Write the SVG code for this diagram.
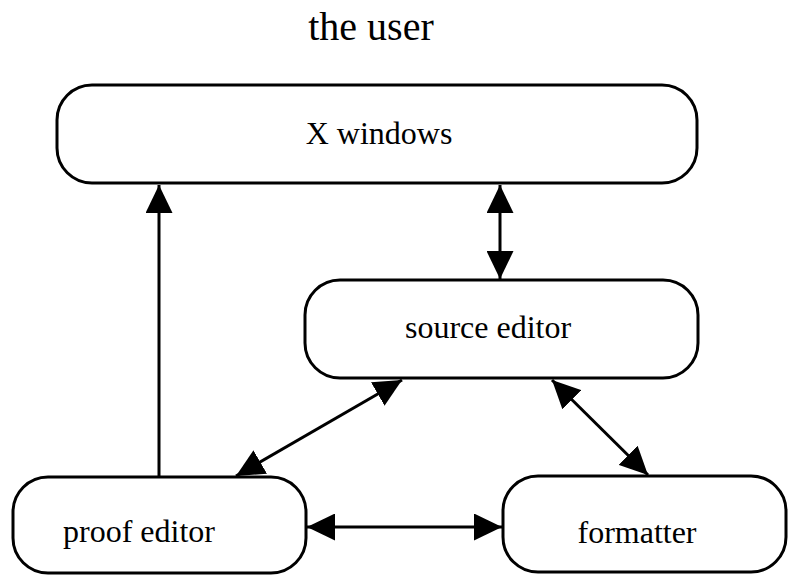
<svg xmlns="http://www.w3.org/2000/svg" width="788" height="575" viewBox="0 0 788 575">
<style>
.box{fill:#fff;stroke:#000;stroke-width:3}
.lbl{font-family:"Liberation Serif","Times New Roman",serif;font-size:32px;fill:#000;text-anchor:middle}
.title{font-family:"Liberation Serif","Times New Roman",serif;font-size:40px;fill:#000;text-anchor:middle}
.conn{stroke:#000;stroke-width:3;fill:none}
</style>
<defs>
<marker id="ah" markerUnits="userSpaceOnUse" markerWidth="28" markerHeight="27" refX="28" refY="13.5" orient="auto-start-reverse">
<path d="M0,0 L28,13.5 L0,27 z" fill="#000"/>
</marker>
</defs>
<text class="title" x="371" y="40">the user</text>
<g id="xwindows">
<rect class="box" x="57" y="85" width="640" height="98" rx="35" ry="35"/>
<text class="lbl" x="379" y="144">X windows</text>
</g>
<g id="source-editor">
<rect class="box" x="305" y="280" width="393" height="98" rx="35" ry="35"/>
<text class="lbl" x="488" y="338">source editor</text>
</g>
<g id="proof-editor">
<rect class="box" x="13" y="477" width="293" height="96" rx="35" ry="35"/>
<text class="lbl" x="139" y="542">proof editor</text>
</g>
<g id="formatter">
<rect class="box" x="503" y="476" width="283" height="96" rx="35" ry="35"/>
<text class="lbl" x="637" y="543">formatter</text>
</g>
<g id="connectors">
<line class="conn" x1="159" y1="476" x2="159" y2="185" stroke-width="2" marker-end="url(#ah)"/>
<line class="conn" x1="500" y1="185" x2="500" y2="279" marker-start="url(#ah)" marker-end="url(#ah)"/>
<line class="conn" x1="402" y1="380" x2="236" y2="476" marker-start="url(#ah)" marker-end="url(#ah)"/>
<line class="conn" x1="552" y1="380" x2="648" y2="475" marker-start="url(#ah)" marker-end="url(#ah)"/>
<line class="conn" x1="307" y1="527" x2="502" y2="527" marker-start="url(#ah)" marker-end="url(#ah)"/>
</g>
</svg>
